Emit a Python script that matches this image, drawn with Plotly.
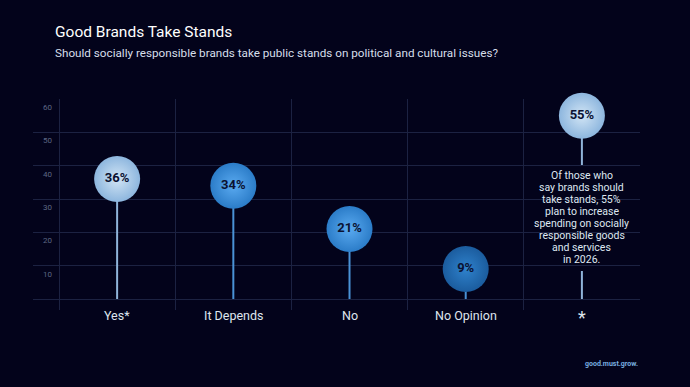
import plotly.graph_objects as go

categories = ["Yes*", "It Depends", "No", "No Opinion", "*"]
values = [36, 34, 21, 9, 55]
value_labels = ["36%", "34%", "21%", "9%", "55%"]
edge_colors = ["#8db6de", "#2b7cc8", "#2b7cc8", "#1b5c9e", "#8db6de"]
center_colors = ["#d2e5f5", "#5aaaf0", "#5aaaf0", "#2f82cc", "#d2e5f5"]
stem_colors = ["#90b4da", "#4a92d6", "#4a92d6", "#4a92d6", "#90b4da"]
y_ticks = [10, 20, 30, 40, 50, 60]
note_lines = ["Of those who", "say brands should", "take stands, 55%", "plan to increase",
              "spending on socially", "responsible goods", "and services", "in 2026."]
note_gap = [8.4, 40.2]  # stem break around note on the "*" column
note_top = 37.2

BG = "#03031b"
GRID = "#1c2242"
FONT = "Roboto"

fig = go.Figure()

# stems
for i, (c, v) in enumerate(zip(categories, values)):
    if c == "*":
        xs = [i, i, None, i, i]
        ys = [0, note_gap[0], None, note_gap[1], v]
    else:
        xs = [i, i]
        ys = [0, v]
    fig.add_trace(go.Scatter(x=xs, y=ys, mode="lines",
                             line=dict(color=stem_colors[i], width=2),
                             hoverinfo="skip", showlegend=False))

# bubbles
fig.add_trace(go.Scatter(
    x=list(range(len(categories))), y=values, mode="markers+text",
    text=value_labels, textposition="middle center", cliponaxis=False,
    textfont=dict(family=FONT, size=13, color="#0b1232", weight="bold"),
    marker=dict(size=46, color=edge_colors,
                gradient=dict(type="radial", color=center_colors),
                line=dict(width=0)),
    showlegend=False, hoverinfo="skip"))

annotations = []
# note text, one annotation per line
for k, line in enumerate(note_lines):
    annotations.append(dict(x=len(categories) - 1, y=note_top, xref="x", yref="y",
                            text=line, showarrow=False, yanchor="middle",
                            yshift=-12.1 * k,
                            font=dict(family=FONT, size=10.5, color="#dfe7f1")))

# y tick labels (placed under gridlines)
for t in y_ticks:
    annotations.append(dict(x=0.013, y=t, xref="paper", yref="y", text=str(t),
                            showarrow=False, xanchor="left", yanchor="top", yshift=-2,
                            font=dict(family=FONT, size=8, color="#5d6784")))

# category labels
for i, c in enumerate(categories):
    big = c == "*"
    annotations.append(dict(x=i, y=0, xref="x", yref="paper", text=c, showarrow=False,
                            yanchor="middle", yshift=-5 if not big else -7,
                            font=dict(family=FONT, size=18 if big else 12.5,
                                      color="#dfe5ee")))

annotations.append(dict(x=1.0, y=(310 - 364) / 211, xref="paper", yref="paper",
                        text="<b>good.must.grow.</b>", showarrow=False,
                        xanchor="right", yanchor="middle",
                        font=dict(family=FONT, size=7, color="#78aee0")))

fig.update_layout(
    width=690, height=387,
    paper_bgcolor=BG, plot_bgcolor=BG,
    margin=dict(l=33, r=50, t=99, b=77),
    title=dict(text="Good Brands Take Stands<br><span style='font-size:11.7px;color:#d6dfea'>"
                    "Should socially responsible brands take public stands on political and cultural issues?</span>",
               x=55 / 690, xanchor="left", y=1 - 37 / 387, yanchor="top",
               font=dict(family=FONT, size=15.5, color="#ffffff")),
    xaxis=dict(range=[-0.724, 4.5], tickmode="array",
               tickvals=list(range(len(categories))), ticktext=categories,
               showticklabels=False,
               showgrid=False, zeroline=False, showline=False, ticks="",
               minor=dict(tickmode="linear", tick0=-0.5, dtick=1, showgrid=True,
                          gridcolor=GRID, gridwidth=1)),
    yaxis=dict(range=[-3.3, 60], tickmode="array", tickvals=[0] + y_ticks,
               showticklabels=False, showgrid=True, gridcolor=GRID, gridwidth=1,
               zeroline=False, showline=False),
    annotations=annotations,
)

fig.write_html("out.html", config={"displayModeBar": False},
               post_script="document.body.style.margin='0';")
